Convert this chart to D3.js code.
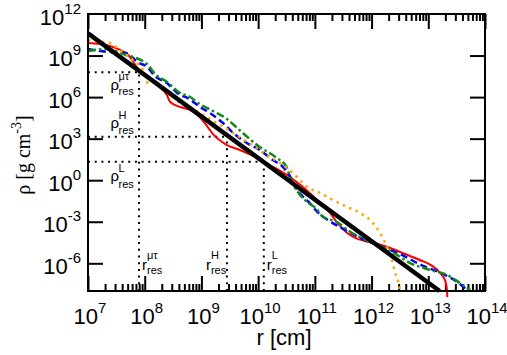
<!DOCTYPE html>
<html>
<head>
<meta charset="utf-8">
<script src="https://cdn.jsdelivr.net/npm/d3@7"></script>
<style>
  body { margin: 0; background: #fff; }
  svg { display: block; }
  text { font-family: "Liberation Sans", Arial, sans-serif; fill: #000; }
</style>
</head>
<body>
<div id="chart"></div>
<script>
// Data: [log10 r (cm), log10 rho (g cm^-3)]
const redCurve = [
  [7.00, 9.91], [7.21, 9.83], [7.48, 9.55], [7.71, 9.04], [7.92, 7.81], [8.09, 7.31],
  [8.22, 6.87], [8.39, 6.15], [8.45, 5.65], [8.62, 5.29], [8.80, 5.07], [8.97, 4.56],
  [9.10, 3.91], [9.20, 3.34], [9.45, 2.54], [9.68, 2.18], [9.91, 1.75], [10.09, 1.34],
  [10.33, 0.81], [10.56, 0.23], [10.79, -0.49], [11.04, -1.43], [11.27, -2.37],
  [11.41, -3.16], [11.57, -3.81], [11.71, -4.17], [11.88, -4.39], [12.11, -4.61],
  [12.33, -4.90], [12.59, -5.33], [12.85, -5.76], [13.07, -6.19], [13.21, -6.70],
  [13.30, -7.28], [13.33, -7.93], [13.335, -8.43]
];
const blueCurve = [
  [7.00, 9.47], [7.32, 9.28], [7.67, 9.18], [7.90, 8.46], [8.02, 8.25], [8.20, 7.45],
  [8.39, 7.02], [8.62, 6.15], [8.74, 5.97], [8.97, 5.31], [9.20, 4.71], [9.38, 4.13],
  [9.56, 3.41], [9.80, 2.69], [10.03, 2.18], [10.26, 1.46], [10.44, 0.95], [10.56, 0.30],
  [10.69, -0.71], [10.91, -1.65], [11.04, -2.27], [11.23, -2.87], [11.50, -3.52],
  [11.80, -4.17], [12.10, -4.68], [12.50, -5.33], [12.91, -6.19], [13.26, -6.77],
  [13.56, -7.49], [13.68, -7.93]
];
const greenCurve = [
  [7.00, 9.33], [7.32, 9.47], [7.67, 9.04], [8.04, 8.39], [8.20, 7.60], [8.39, 7.11],
  [8.62, 6.30], [8.80, 6.01], [8.97, 5.50], [9.20, 5.00], [9.45, 4.42], [9.62, 3.81],
  [9.77, 3.26], [9.98, 2.54], [10.33, 1.60], [10.50, 0.97], [10.56, 0.23], [10.74, -1.07],
  [10.86, -1.55], [11.03, -2.08], [11.14, -2.64], [11.39, -3.02], [11.62, -3.72],
  [12.03, -4.53], [12.38, -5.22], [12.68, -5.98], [13.03, -6.48], [13.33, -6.84],
  [13.56, -7.42], [13.74, -7.93]
];
const orangeCurve = [
  [7.00, 10.12], [7.21, 10.00], [7.39, 9.91], [7.56, 9.40], [7.79, 8.68], [8.00, 7.74],
  [8.06, 6.95], [8.13, 7.23], [8.36, 6.51], [8.56, 5.79], [8.97, 4.85], [9.27, 4.13],
  [9.56, 3.41], [9.80, 2.78], [10.15, 1.82], [10.39, 1.24], [10.68, 0.25], [10.86, -0.47],
  [11.09, -0.92], [11.32, -1.43], [11.56, -1.91], [11.80, -2.37], [11.97, -2.87],
  [12.15, -3.81], [12.27, -4.82], [12.36, -5.76], [12.41, -6.61], [12.47, -7.33],
  [12.50, -7.93]
];
// rho ~ r^-3 reference line
const powerLaw = [[7.0, 10.6], [13.2, -8.0]];

// resonance radii / densities (log10)
const resonances = [
  { name: 'μτ', logR: 7.90, logRho: 7.80 },
  { name: 'H', logR: 9.45, logRho: 3.14 },
  { name: 'L', logR: 10.10, logRho: 1.33 }
];

const xExponents = [7, 8, 9, 10, 11, 12, 13, 14];
const yExponents = [12, 9, 6, 3, 0, -3, -6];

const width = 507, height = 355;
const margin = { top: 14, right: 22, bottom: 64, left: 88 };
const plotW = width - margin.left - margin.right;
const plotH = height - margin.top - margin.bottom;

const svg = d3.select('#chart').append('svg')
  .attr('width', width)
  .attr('height', height);

const x = d3.scaleLog().domain([1e7, 1e14]).range([margin.left, margin.left + plotW]);
const y = d3.scaleLog().domain([1e-8, 1e12]).range([margin.top + plotH, margin.top]);

const xMajor = xExponents.map(e => Math.pow(10, e));
const xMinor = [];
for (let e = 7; e < 14; e++) {
  for (let k = 2; k <= 9; k++) xMinor.push(k * Math.pow(10, e));
}
const yMajor = [9, 6, 3, 0, -3, -6].map(e => Math.pow(10, e));

// ticks (pointing inward) via d3 axes
function tickAxis(axisFn, scale, values, size, translate) {
  const g = svg.append('g')
    .attr('transform', translate)
    .call(axisFn(scale).tickValues(values).tickSize(size).tickSizeOuter(0).tickFormat(''));
  g.select('.domain').remove();
  g.selectAll('line').attr('stroke', '#000').attr('stroke-width', 2);
}
tickAxis(d3.axisBottom, x, xMajor, -15, `translate(0,${margin.top + plotH})`);
tickAxis(d3.axisBottom, x, xMinor, -7, `translate(0,${margin.top + plotH})`);
tickAxis(d3.axisTop, x, xMajor, -15, `translate(0,${margin.top})`);
tickAxis(d3.axisTop, x, xMinor, -7, `translate(0,${margin.top})`);
tickAxis(d3.axisLeft, y, yMajor, -15, `translate(${margin.left},0)`);
tickAxis(d3.axisRight, y, yMajor, -15, `translate(${margin.left + plotW},0)`);

// dotted resonance guides
const guides = svg.append('g')
  .attr('stroke', '#000')
  .attr('stroke-width', 2)
  .attr('stroke-dasharray', '2,4.7')
  .attr('fill', 'none');
resonances.forEach(r => {
  const rx = x(Math.pow(10, r.logR)), ry = y(Math.pow(10, r.logRho));
  guides.append('line')
    .attr('x1', margin.left).attr('x2', rx)
    .attr('y1', ry).attr('y2', ry);
  guides.append('line')
    .attr('x1', rx).attr('x2', rx)
    .attr('y1', margin.top + plotH).attr('y2', ry);
});

// curves
const line = d3.line()
  .x(d => x(Math.pow(10, d[0])))
  .y(d => y(Math.pow(10, d[1])))
  .curve(d3.curveMonotoneX);

const series = [
  { data: redCurve, color: '#ff0000', width: 2, dash: null },
  { data: blueCurve, color: '#0000ff', width: 2.5, dash: '7,4' },
  { data: greenCurve, color: '#108a10', width: 2.5, dash: '8,3,2.5,3' },
  { data: orangeCurve, color: '#ffa500', width: 2.5, dash: '2.5,4.5' }
];
series.forEach(s => {
  svg.append('path')
    .datum(s.data)
    .attr('fill', 'none')
    .attr('stroke', s.color)
    .attr('stroke-width', s.width)
    .attr('stroke-dasharray', s.dash)
    .attr('d', line);
});

svg.append('path')
  .datum(powerLaw)
  .attr('fill', 'none')
  .attr('stroke', '#000')
  .attr('stroke-width', 4.5)
  .attr('d', d3.line().x(d => x(Math.pow(10, d[0]))).y(d => y(Math.pow(10, d[1]))));

// frame
svg.append('rect')
  .attr('x', margin.left).attr('y', margin.top)
  .attr('width', plotW).attr('height', plotH)
  .attr('fill', 'none')
  .attr('stroke', '#000')
  .attr('stroke-width', 2);

// x tick labels
xExponents.forEach(e => {
  const t = svg.append('text')
    .attr('x', x(Math.pow(10, e)) + 2)
    .attr('y', margin.top + plotH + 33)
    .attr('text-anchor', 'middle')
    .style('font-size', '22px');
  t.append('tspan').text('10');
  t.append('tspan').attr('dy', -11).style('font-size', '15px').text(e);
});

// y tick labels
yExponents.forEach(e => {
  const t = svg.append('text')
    .attr('x', margin.left - 7)
    .attr('y', y(Math.pow(10, e)) + 10.5)
    .attr('text-anchor', 'end')
    .style('font-size', '22px');
  t.append('tspan').text('10');
  t.append('tspan').attr('dy', -11).style('font-size', '15px').text(e < 0 ? '-' + (-e) : e);
});

// axis titles
svg.append('text')
  .attr('x', 284)
  .attr('y', 345)
  .attr('text-anchor', 'middle')
  .style('font-size', '22px')
  .text('r [cm]');

const yTitle = svg.append('text')
  .attr('transform', 'translate(30,155) rotate(-90)')
  .attr('text-anchor', 'middle')
  .style('font-family', '"Liberation Serif", "Times New Roman", serif')
  .style('font-size', '20px');
yTitle.append('tspan').text('ρ [g cm');
yTitle.append('tspan').attr('dy', -9).style('font-size', '14px').text('-3');
yTitle.append('tspan').attr('dy', 9).text(']');

// resonance labels: symbol, superscript and "res" subscript stacked
function resLabel(symbol, name, sx, baseY, supY, subY) {
  svg.append('text').attr('x', sx).attr('y', baseY).style('font-size', '15px').text(symbol);
  const ox = sx + (symbol === 'ρ' ? 8 : 5);
  svg.append('text').attr('x', ox).attr('y', supY).style('font-size', '11px').text(name);
  svg.append('text').attr('x', ox).attr('y', subY).style('font-size', '11px').text('res');
}
const rhoLabelY = { 'μτ': [90, 80, 95], 'H': [128, 119, 134], 'L': [181, 172, 188] };
resonances.forEach(r => {
  const [b, sp, sb] = rhoLabelY[r.name];
  resLabel('ρ', r.name, 110.5, b, sp, sb);

  const rx = x(Math.pow(10, r.logR));
  const lx = r.name === 'H' ? rx - 21 : rx + 3;
  resLabel('r', r.name, lx, 270, 259, 274);
});
</script>
</body>
</html>
